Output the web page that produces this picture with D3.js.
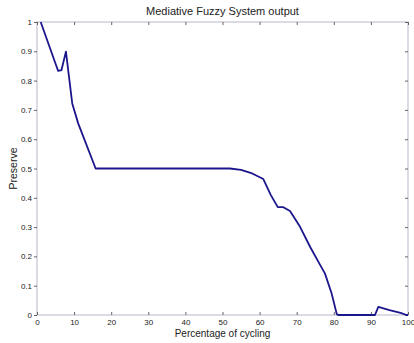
<!DOCTYPE html>
<html>
<head>
<meta charset="utf-8">
<script src="https://cdn.jsdelivr.net/npm/d3@7"></script>
<style>
	body { margin: 0; background: #fff; }
	text { font-family: "Liberation Sans", Arial, sans-serif; fill: #222; }
</style>
</head>
<body>
<div id="chart"></div>
<script>
var width = 414;
var height = 343;

// percentage of cycling
var cycling = [1, 5.7, 6.6, 7.8, 9.5, 11.1, 15.8, 52, 55, 58, 61, 63, 64.9, 66.4, 68.2, 70.9, 73.6, 76.3, 77.6, 79.4, 80.8, 81.2, 91.1, 92, 95, 98, 99.6, 100];
// preserve
var preserve = [1, 0.833, 0.836, 0.899, 0.722, 0.654, 0.5, 0.5, 0.495, 0.483, 0.464, 0.41, 0.368, 0.368, 0.355, 0.301, 0.233, 0.171, 0.142, 0.074, 0.003, 0, 0, 0.028, 0.017, 0.007, 0, 0];

var xTicks = [0, 10, 20, 30, 40, 50, 60, 70, 80, 90, 100];
var yTicks = [0, 0.1, 0.2, 0.3, 0.4, 0.5, 0.6, 0.7, 0.8, 0.9, 1];

// plot box (window.top is reserved, so prefixed names)
var boxL = 37, boxR = 408, boxT = 22, boxB = 315;

var x = d3.scaleLinear().domain([0, 100]).range([boxL, boxR]);
var y = d3.scaleLinear().domain([0, 1]).range([boxB, boxT]);

var svg = d3.select("#chart")
	.append("svg")
		.attr("width", width)
		.attr("height", height)
	;

// box
svg.append("rect")
	.attr("x", boxL)
	.attr("y", boxT)
	.attr("width", boxR - boxL)
	.attr("height", boxB - boxT)
	.attr("fill", "none")
	.attr("stroke", "#cfd0dc")
	.attr("stroke-width", 1.5)
	;

var fmt = d => d === 0 || d === 1 ? String(d) : d3.format(".1f")(d);

// bottom axis + top ticks, ticks inside
svg.append("g")
	.attr("transform", "translate(0," + boxB + ")")
	.call(d3.axisBottom(x).tickValues(xTicks).tickSize(-3).tickPadding(4).tickFormat(d3.format("d")))
	.call(g => g.select(".domain").remove())
	.call(g => g.selectAll("line").attr("stroke", "#666"))
	.call(g => g.selectAll("text").attr("font-size", 8).attr("font-family", "Liberation Sans, Arial, sans-serif"))
	;
svg.append("g")
	.attr("transform", "translate(0," + boxT + ")")
	.call(d3.axisTop(x).tickValues(xTicks).tickSize(-3).tickFormat(""))
	.call(g => g.select(".domain").remove())
	.call(g => g.selectAll("line").attr("stroke", "#666"))
	;

// left axis + right ticks
svg.append("g")
	.attr("transform", "translate(" + boxL + ",0)")
	.call(d3.axisLeft(y).tickValues(yTicks).tickSize(3).tickPadding(2).tickFormat(fmt))
	.call(g => g.select(".domain").remove())
	.call(g => g.selectAll("line").attr("stroke", "#666"))
	.call(g => g.selectAll("text").attr("font-size", 8).attr("font-family", "Liberation Sans, Arial, sans-serif"))
	;
svg.append("g")
	.attr("transform", "translate(" + boxR + ",0)")
	.call(d3.axisRight(y).tickValues(yTicks).tickSize(-3).tickFormat(""))
	.call(g => g.select(".domain").remove())
	.call(g => g.selectAll("line").attr("stroke", "#666"))
	;

// curve
var pts = cycling.map((c, i) => [c, preserve[i]]);
svg.append("path")
	.datum(pts)
	.attr("fill", "none")
	.attr("stroke", "#1c168c")
	.attr("stroke-width", 1.8)
	.attr("stroke-linejoin", "round")
	.attr("d", d3.line().x(d => x(d[0])).y(d => y(d[1])))
	;

// labels
svg.append("text")
	.attr("x", (boxL + boxR) / 2)
	.attr("y", 15)
	.attr("text-anchor", "middle")
	.attr("font-size", 11)
	.text("Mediative Fuzzy System output")
	;
svg.append("text")
	.attr("x", (boxL + boxR) / 2)
	.attr("y", 337)
	.attr("text-anchor", "middle")
	.attr("font-size", 10)
	.text("Percentage of cycling")
	;
svg.append("text")
	.attr("transform", "translate(17," + (boxT + boxB) / 2 + ") rotate(-90)")
	.attr("text-anchor", "middle")
	.attr("font-size", 10.5)
	.text("Preserve")
	;
</script>
</body>
</html>
